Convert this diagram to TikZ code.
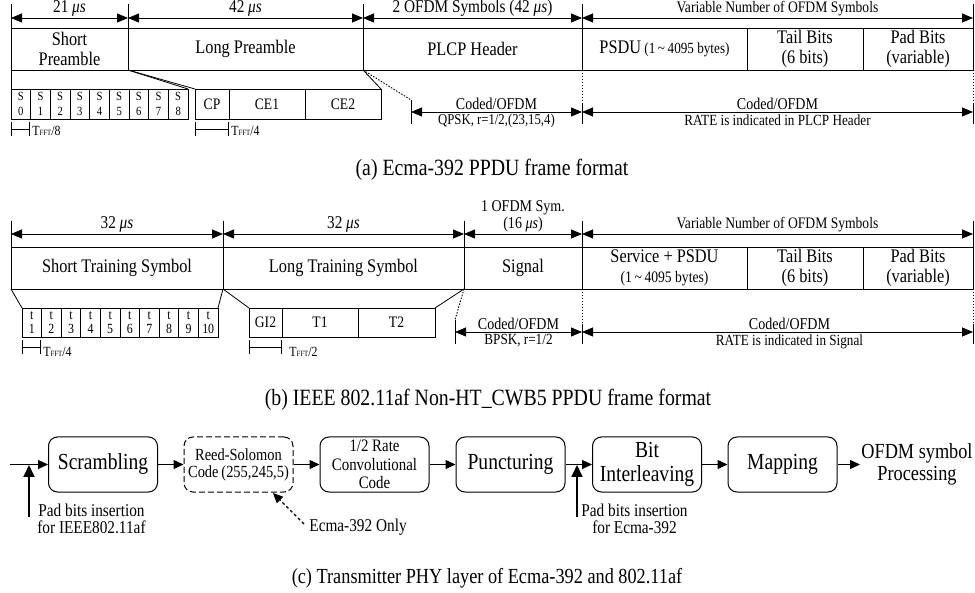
\documentclass[tikz,border=0pt]{standalone}
\usepackage{fontspec}
\setmainfont{Liberation Serif}[FakeStretch=0.85]
\usetikzlibrary{arrows.meta}

\newcommand{\fz}[2]{\fontsize{#1}{#2}\selectfont}
\newcommand{\us}{{\itshape μs}}
\newcommand{\tfft}[1]{T\raisebox{-0.6pt}{\fontsize{8}{8}\selectfont FFT}/#1}
% rectangular field: [style]{name}{x1}{y1}{x2}{y2}{text}
\newcommand{\framecell}[7][]{%
  \node[cell,#1,minimum width={(#5-#3)*1pt},minimum height={(#6-#4)*1pt}] (#2) at (#3,#4) {#7};}

\begin{document}
\begin{tikzpicture}[x=1pt,y=-1pt,line width=0.8pt,
  cell/.style={draw,rectangle,inner sep=0pt,outer sep=0pt,anchor=north west,
    align=center,font=\fz{19.2}{19.5}},
  dim/.style={{Triangle[length=11pt,width=9pt]}-{Triangle[length=11pt,width=9pt]}},
  arr/.style={-{Triangle[length=10pt,width=9pt]},line width=1.2pt},
  padarr/.style={-{Triangle[length=12pt,width=11pt]},line width=1.8pt},
  dotv/.style={dash pattern=on 1.5pt off 1.5pt,line width=0.9pt},
  bar/.style={{Bar[width=14pt]}-{Bar[width=14pt]},line width=0.9pt},
  toplbl/.style={above,inner sep=1.5pt,font=\fz{18}{18}},
  varlbl/.style={above,inner sep=1.5pt,font=\fz{16}{17}},
  codlbl/.style={above,inner sep=2pt,font=\fz{16.5}{17}},
  ratelbl/.style={below,inner sep=2pt,font=\fz{15.5}{16}},
  tlbl/.style={anchor=west,inner sep=1pt,font=\fz{14}{14}},
  caption/.style={font=\fz{23.3}{24}},
  blk/.style={draw,rounded corners=9pt,minimum width=109pt,minimum height=55pt,
    inner sep=0pt,line width=1pt,align=center,font=\fz{23}{24}},
  note/.style={align=center,inner sep=0pt,font=\fz{18}{17}},
]
\useasboundingbox (0,0) rectangle (975,593);
\fill[white] (0,0) rectangle (975,593);

% ================= (a) Ecma-392 PPDU =================
\foreach \n/\x in {a0/11,a1/128,a2/363,a3/582,a4/973}{
  \coordinate (\n) at (\x,18);
  \coordinate (\n-top) at (\x,4);
}
\framecell{sp}{11}{28}{128}{70}{Short\\Preamble}
\framecell{lp}{128}{28}{363}{70}{Long Preamble}
\framecell{plcp}{363}{28}{582}{70}{PLCP Header}
\framecell{psdu}{582}{28}{747}{70}{PSDU\,{\fz{15.5}{16}(1\,\textasciitilde\,4095 bytes)}}
\framecell{tail}{747}{28}{863}{70}{Tail Bits\\(6 bits)}
\framecell{pad}{863}{28}{973}{70}{Pad Bits\\(variable)}

\draw (a0-top) -- (sp.north west);
\draw (a1-top) -- (lp.north west);
\draw (a2-top) -- (plcp.north west);
\draw (a3-top) -- (psdu.north west);
\draw (a4-top) -- (pad.north east);
\draw[dim] (a0) -- node[toplbl]{21 \us} (a1);
\draw[dim] (a1) -- node[toplbl]{42 \us} (a2);
\draw[dim] (a2) -- node[toplbl]{2 OFDM Symbols (42 \us)} (a3);
\draw[dim] (a3) -- node[varlbl]{Variable Number of OFDM Symbols} (a4);

% short preamble symbols
\foreach \i in {0,...,8}{
  \pgfmathsetmacro\cellL{11+\i*19.667}
  \pgfmathsetmacro\cellR{\cellL+19.667}
  \framecell[font=\fz{12.5}{14.5}]{s\i}{\cellL}{89}{\cellR}{119}{S\\\i}
}
\framecell[font=\fz{16}{16}]{cp}{195}{89}{229}{119}{CP}
\framecell[font=\fz{16}{16}]{ce1}{229}{89}{305}{119}{CE1}
\framecell[font=\fz{16}{16}]{ce2}{305}{89}{381}{119}{CE2}
\draw (sp.south west) -- (s0.north west);
\draw (sp.south east) -- (s8.north east);
\draw (lp.south west) -- (cp.north west);
\draw (lp.south east) -- (ce2.north east);

% header and data coding spans
\coordinate (pq) at (411,100);  \coordinate (pqb) at (411,124);
\coordinate (m1) at (582,104);  \coordinate (m1b) at (582,124);
\coordinate (m2) at (973,104);  \coordinate (m2b) at (973,124);
\coordinate (q1) at (411,112);  \coordinate (q2) at (582,112);
\coordinate (q3) at (973,112);
\draw[dotv] (plcp.south west) -- (pq);
\draw (pq) -- (pqb);
\draw[dotv] (psdu.south west) -- (m1);
\draw (m1) -- (m1b);
\draw[dotv] (pad.south east) -- (m2);
\draw (m2) -- (m2b);
\draw[dim] (q1) -- node[codlbl]{Coded/OFDM}
  node[ratelbl,font=\fz{15}{16}]{QPSK, r=1/2,(23,15,4)} (q2);
\draw[dim] (q2) -- node[codlbl]{Coded/OFDM}
  node[ratelbl]{RATE is indicated in PLCP Header} (q3);

% symbol durations
\coordinate (ba1) at (11,129);  \coordinate (ba2) at (30,129);
\coordinate (ba3) at (195,129); \coordinate (ba4) at (229,129);
\draw[bar] (ba1) -- (ba2);
\draw[bar] (ba3) -- (ba4);
\node[tlbl] (lba1) at (31,131) {\tfft{8}};
\node[tlbl] (lba2) at (230,131) {\tfft{4}};

\node[caption] (capa) at (492,170) {(a) Ecma-392 PPDU frame format};

% ================= (b) IEEE 802.11af PPDU =================
\foreach \n/\x in {b0/11,b1/223,b2/464,b3/582,b4/973}{
  \coordinate (\n) at (\x,234);
  \coordinate (\n-top) at (\x,221);
}
\framecell{sts}{11}{247}{223}{289}{Short Training Symbol}
\framecell{lts}{223}{247}{464}{289}{Long Training Symbol}
\framecell{sig}{464}{247}{582}{289}{Signal}
\framecell{spsdu}{582}{247}{747}{289}{Service + PSDU\\{\fz{16}{16}(1\,\textasciitilde\,4095 bytes)}}
\framecell{tail2}{747}{247}{863}{289}{Tail Bits\\(6 bits)}
\framecell{pad2}{863}{247}{973}{289}{Pad Bits\\(variable)}

\draw (b0-top) -- (sts.north west);
\draw (b1-top) -- (lts.north west);
\draw (b2-top) -- (sig.north west);
\draw (b3-top) -- (spsdu.north west);
\draw (b4-top) -- (pad2.north east);
\draw[dim] (b0) -- node[toplbl]{32 \us} (b1);
\draw[dim] (b1) -- node[toplbl]{32 \us} (b2);
\draw[dim] (b2) -- node[toplbl,align=center,font=\fz{16.5}{17}]{1 OFDM Sym.\\(16 \us)} (b3);
\draw[dim] (b3) -- node[varlbl]{Variable Number of OFDM Symbols} (b4);

% short training symbols
\foreach \i in {1,...,10}{
  \pgfmathsetmacro\cellL{22+(\i-1)*19.6}
  \pgfmathsetmacro\cellR{\cellL+19.6}
  \framecell[font=\fz{14}{14.5}]{t\i}{\cellL}{308}{\cellR}{337}{t\\\i}
}
\framecell[font=\fz{16}{16}]{gi}{249}{308}{282}{337}{GI2}
\framecell[font=\fz{16}{16}]{t1l}{282}{308}{358}{337}{T1}
\framecell[font=\fz{16}{16}]{t2l}{358}{308}{435}{337}{T2}
\draw (sts.south west) -- (t1.north west);
\draw (sts.south east) -- (t10.north east);
\draw (lts.south west) -- (gi.north west);
\draw (lts.south east) -- (t2l.north east);

% signal and data coding spans
\coordinate (sq) at (455,320);  \coordinate (sqb) at (455,344);
\coordinate (n1) at (582,324);  \coordinate (n1b) at (582,344);
\coordinate (n2) at (973,324);  \coordinate (n2b) at (973,344);
\coordinate (r1) at (455,332);  \coordinate (r2) at (582,332);
\coordinate (r3) at (973,332);
\draw[dotv] (sig.south west) -- (sq);
\draw (sq) -- (sqb);
\draw[dotv] (spsdu.south west) -- (n1);
\draw (n1) -- (n1b);
\draw[dotv] (pad2.south east) -- (n2);
\draw (n2) -- (n2b);
\draw[dim] (r1) -- node[codlbl]{Coded/OFDM}
  node[ratelbl]{BPSK, r=1/2} (r2);
\draw[dim] (r2) -- node[codlbl,xshift=12pt]{Coded/OFDM}
  node[ratelbl,xshift=12pt]{RATE is indicated in Signal} (r3);

% symbol durations
\coordinate (bb1) at (22,347);  \coordinate (bb2) at (41,347);
\coordinate (bb3) at (249,347); \coordinate (bb4) at (282,347);
\draw[bar] (bb1) -- (bb2);
\draw[bar] (bb3) -- (bb4);
\node[tlbl] (lbb1) at (42,352) {\tfft{4}};
\node[tlbl] (lbb2) at (288,352) {\tfft{2}};

\node[caption] (capb) at (488,400) {(b) IEEE 802.11af Non-HT\_CWB5 PPDU frame format};

% ================= (c) Transmitter chain =================
\node[blk] (scr) at (103,464.5) {Scrambling};
\node[blk,dashed,dash pattern=on 6pt off 3pt,font=\fz{17}{17}] (rs) at (238.5,464.5)
  {Reed-Solomon\\Code\,(255,245,5)};
\node[blk,font=\fz{17.5}{18.5}] (cc) at (374.5,464.5) {1/2 Rate\\Convolutional\\Code};
\node[blk] (pun) at (510.5,464.5) {Puncturing};
\node[blk] (bi) at (647,464.5) {Bit\\Interleaving};
\node[blk] (map) at (782.5,464.5) {Mapping};
\node[align=center,inner sep=1pt,font=\fz{21.5}{22}] (out) at (917,464.5) {OFDM symbol\\Processing};

\coordinate (cin) at (10,464.5);
\draw[arr] (cin) -- (scr);
\draw[arr] (scr) -- (rs);
\draw[arr] (rs) -- (cc);
\draw[arr] (cc) -- (pun);
\draw[arr] (pun) -- (bi);
\draw[arr] (bi) -- (map);
\draw[arr] (map) -- (out);

\coordinate (pa1) at (29,517);  \coordinate (pa1t) at (29,465);
\coordinate (pa2) at (577,517); \coordinate (pa2t) at (577,465);
\draw[padarr] (pa1) -- (pa1t);
\draw[padarr] (pa2) -- (pa2t);
\node[note,anchor=north west] (pn1) at (37,504) {Pad bits insertion\\for IEEE802.11af};
\node[note,anchor=north west] (pn2) at (581,504) {Pad bits insertion\\for Ecma-392};

\coordinate (eo2) at (273,493);
\node[note,anchor=west] (eo) at (309,527) {Ecma-392 Only};
\coordinate (eo1) at (304,524);
\draw[arr,dashed,dash pattern=on 3pt off 2.5pt,line width=1.3pt] (eo1) -- (eo2);

\node[caption,font=\fz{21.5}{22}] (capc) at (487,578) {(c) Transmitter PHY layer of Ecma-392 and 802.11af};
\end{tikzpicture}
\end{document}
